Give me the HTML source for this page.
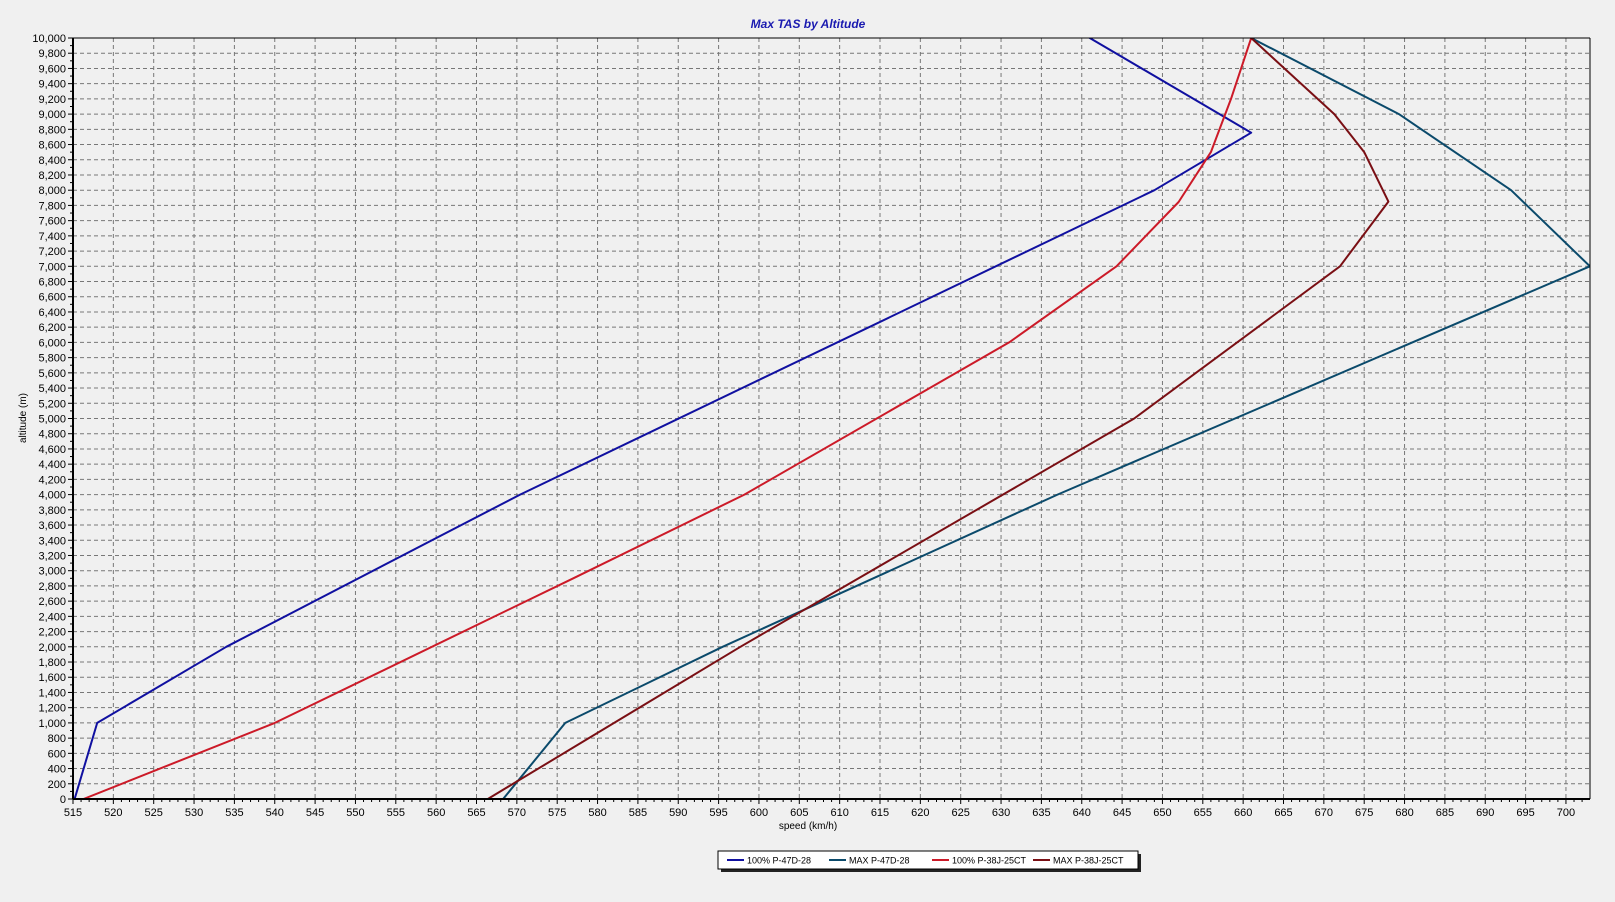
<!DOCTYPE html>
<html><head><meta charset="utf-8"><style>
html,body{margin:0;padding:0;background:#f0f0f0;}
svg{display:block;font-family:"Liberation Sans",sans-serif;}
</style></head><body>
<svg id="c" width="1615" height="902" viewBox="0 0 1615 902" xmlns="http://www.w3.org/2000/svg"></svg>
<script>
const L=73,R=1590,T=38,B=799;
const X=v=>L+(v-515)*8.07, Y=a=>B-a*0.0761;
let s='';
s+=`<rect x="${L}" y="${T}" width="${R-L}" height="${B-T}" fill="#f0f0f0"/>`;
for(let v=520;v<=700;v+=5){s+=`<line x1="${X(v)}" y1="${T}" x2="${X(v)}" y2="${B}" stroke="#777" stroke-dasharray="4,3" stroke-width="1"/>`;}
for(let a=200;a<10000;a+=200){s+=`<line x1="${L}" y1="${Y(a)}" x2="${R}" y2="${Y(a)}" stroke="#777" stroke-dasharray="4,3" stroke-width="1"/>`;}
for(let v=515;v<=702;v++){const maj=(v%5==0);s+=`<line x1="${X(v)}" y1="${B}" x2="${X(v)}" y2="${B+(maj?5:3)}" stroke="#000"/>`;
 if(maj)s+=`<text x="${X(v)}" y="${B+17}" font-size="11" text-anchor="middle" fill="#000">${v}</text>`;}
for(let a=0;a<=10000;a+=200){s+=`<line x1="${L-5}" y1="${Y(a)}" x2="${L}" y2="${Y(a)}" stroke="#000"/>`;
 s+=`<text x="${L-7}" y="${Y(a)+4}" font-size="11" text-anchor="end" fill="#000">${a.toLocaleString('en-US')}</text>`;}
for(let a=100;a<10000;a+=200){s+=`<line x1="${L-3}" y1="${Y(a)}" x2="${L}" y2="${Y(a)}" stroke="#000"/>`;}
s+=`<defs><clipPath id="cp"><rect x="${L}" y="${T}" width="${R-L}" height="${B-T}"/></clipPath></defs>`;
const series=[
 ['#1010a0',[[515.2,0],[518,1000],[534,2000],[570.4,4000],[649,8000],[661,8755],[641,10000],[620,11200]]],
 ['#0b4a6b',[[568.3,0],[576,1000],[595.5,2000],[637,4000],[702.97,7000],[693.2,8000],[679.3,9000],[661,10000]]],
 ['#cc1a28',[[516.3,0],[540,1000],[577,2900],[598.2,4000],[631,6000],[644.3,7000],[652,7845],[656,8500],[658.5,9200],[661,10000]]],
 ['#7a0f14',[[566.4,0],[597.7,2000],[646.5,5000],[672,7000],[678,7850],[675,8500],[671.3,9000],[661,10000]]]
];
s+='<g clip-path="url(#cp)">';
for(const [c,p] of series){s+=`<polyline fill="none" stroke="${c}" stroke-width="2" stroke-linejoin="round" points="${p.map(q=>X(q[0]).toFixed(1)+','+Y(q[1]).toFixed(1)).join(' ')}"/>`;}
s+='</g>';
s+=`<line x1="${L}" y1="${T}" x2="${R}" y2="${T}" stroke="#000" stroke-width="1"/>`;
s+=`<line x1="${R}" y1="${T}" x2="${R}" y2="${B}" stroke="#000" stroke-width="1"/>`;
s+=`<line x1="${L}" y1="${T}" x2="${L}" y2="${B}" stroke="#000" stroke-width="2"/>`;
s+=`<line x1="${L}" y1="${B}" x2="${R}" y2="${B}" stroke="#000" stroke-width="2"/>`;
s+=`<text x="808" y="28" font-size="12" font-weight="bold" font-style="italic" fill="#1a1ab0" text-anchor="middle">Max TAS by Altitude</text>`;
s+=`<text x="808" y="829" font-size="10" text-anchor="middle" fill="#000">speed (km/h)</text>`;
s+=`<text transform="translate(26,418) rotate(-90)" font-size="10" text-anchor="middle" fill="#000">altitude (m)</text>`;
s+=`<rect x="721" y="854" width="420" height="18" fill="#222"/>`;
s+=`<rect x="718" y="851" width="420" height="18" fill="#fff" stroke="#000" stroke-width="1"/>`;
const lg=[['#1010a0','100% P-47D-28',727],['#0b4a6b','MAX P-47D-28',829],['#cc1a28','100% P-38J-25CT',932],['#7a0f14','MAX P-38J-25CT',1033]];
for(const [c,t,x] of lg){s+=`<line x1="${x}" y1="860" x2="${x+17}" y2="860" stroke="${c}" stroke-width="2"/><text x="${x+20}" y="863.5" font-size="9" fill="#000">${t}</text>`;}
document.getElementById('c').innerHTML=s;
</script>
</body></html>
